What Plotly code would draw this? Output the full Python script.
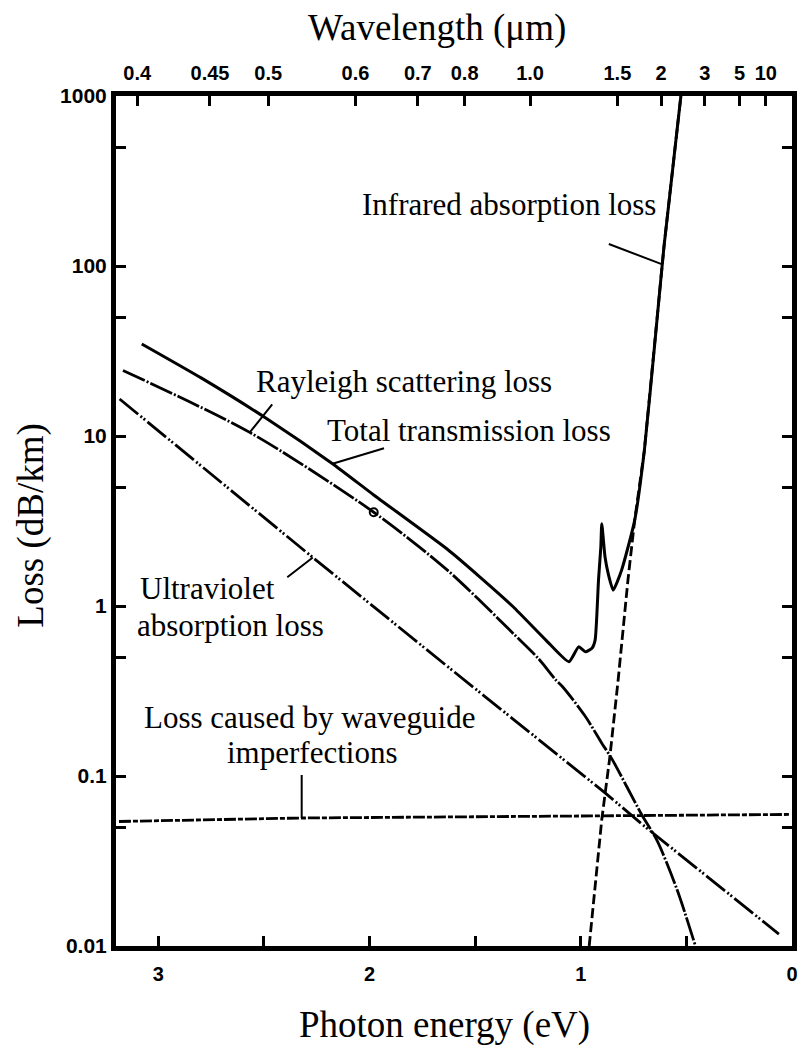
import numpy as np
import plotly.graph_objects as go

# ---------------- data (photon energy in eV, loss in dB/km) -------------
total_energy = [3.078, 2.795, 2.484, 2.175, 1.980, 1.630, 1.477, 1.320, 1.165, 1.056, 1.010,
                0.978, 0.947, 0.932, 0.916, 0.905, 0.9005, 0.885, 0.870, 0.8465, 0.807,
                0.745, 0.699, 0.644, 0.606, 0.526]
total_loss = [34.8, 21.9, 12.6, 6.87, 4.5, 2.15, 1.48, 0.99, 0.63, 0.47, 0.575,
              0.538, 0.564, 0.63, 1.42, 2.22, 3.05, 1.94, 1.55, 1.24, 1.62,
              3.18, 8.2, 41.4, 130, 1000]

rayleigh_energy = [3.167, 2.567, 1.980, 1.630, 1.320, 1.200, 1.118, 1.087, 0.978, 0.9005,
                   0.854, 0.714, 0.638, 0.545, 0.457]
rayleigh_loss = [24.3, 10.5, 3.56, 1.62, 0.69, 0.49, 0.367, 0.336, 0.224, 0.156,
                 0.127, 0.060, 0.0415, 0.0216, 0.010]

uv_energy = [3.183, 2.2685, 1.756, 1.630, 0.885, 0.699, 0.062]
uv_loss = [16.5, 1.93, 0.589, 0.44, 0.0796, 0.0507, 0.01175]

ir_energy = [0.960, 0.9005, 0.862, 0.823, 0.7766, 0.745, 0.699, 0.644, 0.606, 0.526]
ir_loss = [0.01, 0.0555, 0.130, 0.367, 1.42, 3.18, 8.2, 41.4, 130, 1000]

waveguide_energy = [3.186, 2.329, 0.014]
waveguide_loss = [0.054, 0.0566, 0.0594]

marker_energy = [1.980]
marker_loss = [3.56]

energy_ticks = [3, 2.5, 2, 1.5, 1, 0.5, 0]
energy_ticktext = ['3', '', '2', '', '1', '', '0']
loss_ticks = [0.01, 0.05, 0.1, 0.5, 1, 5, 10, 50, 100, 500, 1000]
loss_ticktext = ['0.01', '', '0.1', '', '1', '', '10', '', '100', '', '1000']
wavelength_ticks = [0.4, 0.45, 0.5, 0.6, 0.7, 0.8, 1.0, 1.5, 2, 3, 5, 10]
wavelength_ticktext = ['0.4', '0.45', '0.5', '0.6', '0.7', '0.8', '1.0', '1.5', '2', '3', '5', '10']
HC = 1.2398  # eV * um, photon energy <-> wavelength

# ---------------- layout geometry ----------------
W, H = 810, 1046
ML, MR, MT, MB = 116, 13, 96, 100
PW, PH = W - ML - MR, H - MT - MB


def px(x):
    return (x - ML) / PW


def py(y):
    return (H - MB - y) / PH


SERIF = "Liberation Serif, Times New Roman, serif"
SANS = "Liberation Sans, Arial, sans-serif"
LW = 2.8

fig = go.Figure()

fig.add_trace(go.Scatter(x=waveguide_energy, y=waveguide_loss, mode='lines',
                         line=dict(color='black', width=LW, dash='12px,2px,5px,2px')))
fig.add_trace(go.Scatter(x=uv_energy, y=uv_loss, mode='lines',
                         line=dict(color='black', width=LW, dash='24px,3px,2px,2px,2px,3px')))
fig.add_trace(go.Scatter(x=rayleigh_energy, y=rayleigh_loss, mode='lines',
                         line=dict(color='black', width=LW, dash='24px,2px,2px,2px',
                                   shape='spline', smoothing=0.8)))
fig.add_trace(go.Scatter(x=ir_energy, y=ir_loss, mode='lines',
                         line=dict(color='black', width=LW, dash='10px,4px')))
fig.add_trace(go.Scatter(x=total_energy, y=total_loss, mode='lines',
                         line=dict(color='black', width=3, shape='spline', smoothing=0.5)))
fig.add_trace(go.Scatter(x=marker_energy, y=marker_loss, mode='markers',
                         marker=dict(symbol='circle-open', size=8, color='black',
                                     line=dict(width=2, color='black'))))


def curve_at(energy, es, ls):
    es = np.asarray(es)[::-1]
    ls = np.log10(np.asarray(ls))[::-1]
    return float(np.interp(energy, es, ls))


pointers = [
    (0.614, ir_energy, ir_loss, -55, -21),
    (2.567, rayleigh_energy, rayleigh_loss, 24, -30),
    (2.175, total_energy, total_loss, 53, -16),
    (2.2685, uv_energy, uv_loss, -27, 21),
    (2.321, waveguide_energy, waveguide_loss, 0, -45),
]
annotations = []
for e, es, ls, ax, ay in pointers:
    annotations.append(dict(x=e, y=curve_at(e, es, ls), xref='x', yref='y', text=' ',
                            showarrow=True, arrowhead=0, arrowwidth=2, arrowcolor='black',
                            ax=ax, ay=ay, standoff=0, startstandoff=0, font=dict(size=1)))

labels = [
    ("Infrared absorption loss", 512, 204, 'center'),
    ("Rayleigh scattering loss", 406, 381, 'center'),
    ("Total transmission loss", 472, 430, 'center'),
    ("Ultraviolet", 138, 588, 'left'),
    ("absorption loss", 135, 625, 'left'),
    ("Loss caused by waveguide", 311, 718, 'center'),
    ("imperfections", 313, 752, 'center'),
]
for text, x, y, anchor in labels:
    annotations.append(dict(x=px(x), y=py(y), xref='paper', yref='paper', text=text,
                            showarrow=False, xanchor=anchor, yanchor='middle',
                            font=dict(family=SERIF, size=31, color='black')))

annotations.append(dict(x=px(439), y=py(28), xref='paper', yref='paper', text='Wavelength (μm)',
                        showarrow=False, xanchor='center', yanchor='middle',
                        font=dict(family=SERIF, size=37, color='black')))
annotations.append(dict(x=px(447), y=py(1025), xref='paper', yref='paper', text='Photon energy (eV)',
                        showarrow=False, xanchor='center', yanchor='middle',
                        font=dict(family=SERIF, size=37, color='black')))
annotations.append(dict(x=px(30), y=py(525), xref='paper', yref='paper', text='Loss (dB/km)',
                        showarrow=False, xanchor='center', yanchor='middle', textangle=-90,
                        font=dict(family=SERIF, size=37, color='black')))

tickfont = dict(family=SANS, size=20, color='black', weight='bold')
axis_common = dict(showgrid=False, zeroline=False, ticks='inside', ticklen=10, tickwidth=2.5,
                   tickcolor='black')

fig.update_layout(
    width=W, height=H,
    margin=dict(l=ML, r=MR, t=MT, b=MB, pad=0),
    paper_bgcolor='white', plot_bgcolor='white',
    showlegend=False,
    xaxis=dict(range=[3.2, 0], tickmode='array', tickvals=energy_ticks, ticktext=energy_ticktext,
               showline=True, linewidth=5, linecolor='black', mirror=True,
               ticklabelstandoff=6, tickfont=tickfont, **axis_common),
    xaxis2=dict(range=[3.2, 0], overlaying='x', side='top', anchor='y', tickmode='array',
                tickvals=[HC / w for w in wavelength_ticks], ticktext=wavelength_ticktext,
                showline=False, ticklabelstandoff=11, tickfont=tickfont, **axis_common),
    yaxis=dict(type='log', range=[-2, 3], tickmode='array', tickvals=loss_ticks,
               ticktext=loss_ticktext, showline=True, linewidth=5, linecolor='black',
               mirror='ticks', ticklabelstandoff=0,
               tickfont=dict(family=SANS, size=21, color='black', weight='bold'), **axis_common),
    annotations=annotations,
)

# keep an (invisible) trace on xaxis2 so the top axis is drawn
fig.add_trace(go.Scatter(x=[1.0], y=[1.0], xaxis='x2', yaxis='y', mode='markers',
                         marker=dict(opacity=0), hoverinfo='skip'))

fig.write_html("out.html", config={'displayModeBar': False},
               post_script="document.body.style.margin='0';document.body.style.overflow='hidden';")
